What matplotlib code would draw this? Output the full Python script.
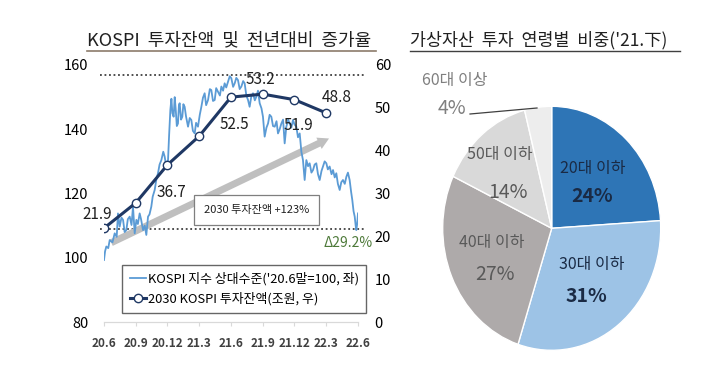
import numpy as np
import matplotlib
matplotlib.use("Agg")
import matplotlib.pyplot as plt
from matplotlib.lines import Line2D

plt.rcParams['font.family'] = ['Noto Sans CJK KR', 'DejaVu Sans']

# KOSPI 상대수준 (months after 2020.6, value)
kospi_m = [0, 0.1, 0.22, 0.4, 0.54, 0.8, 1.01, 1.2, 1.32, 1.48, 1.65, 1.8, 1.95, 2.11,
           2.25, 2.43, 2.6, 2.74, 2.9, 3.06, 3.2, 3.37, 3.5, 3.69, 3.85, 4.0, 4.16, 4.3,
           4.47, 4.6, 4.79, 4.95, 5.1, 5.25, 5.42, 5.6, 5.73, 5.89, 6.05, 6.15, 6.27,
           6.37, 6.46, 6.58, 6.68, 6.77, 6.88, 6.99, 7.08, 7.15, 7.28, 7.4, 7.5, 7.62,
           7.75, 7.94, 8.1, 8.25, 8.4, 8.57, 8.7, 8.88, 9.05, 9.2, 9.35, 9.51, 9.65,
           9.83, 10.0, 10.14, 10.3, 10.46, 10.6, 10.77, 10.95, 11.09, 11.25, 11.4, 11.55,
           11.72, 11.88, 12.03, 12.2, 12.35, 12.5, 12.66, 12.82, 12.98, 13.15, 13.29,
           13.45, 13.61, 13.76, 13.92, 14.08, 14.25, 14.39, 14.55, 14.71, 14.88, 15.02,
           15.18, 15.35, 15.5, 15.65, 15.81, 15.97, 16.13, 16.3, 16.44, 16.6, 16.76,
           16.92, 17.07, 17.23, 17.4, 17.54, 17.7, 17.86, 18.0, 18.17, 18.33, 18.49,
           18.65, 18.8, 18.96, 19.12, 19.28, 19.43, 19.6, 19.75, 19.9, 20.06, 20.22,
           20.38, 20.55, 20.69, 20.85, 21.01, 21.15, 21.32, 21.5, 21.64, 21.8, 21.95,
           22.1, 22.27, 22.42, 22.58, 22.75, 22.9, 23.05, 23.21, 23.35, 23.46, 23.58,
           23.69, 23.78, 23.84, 23.92, 24.0]
kospi_v = [99.3, 102.0, 103.5, 103.0, 105.5, 104.8, 107.6, 106.5, 113.8, 109.7, 112.5,
           111.8, 108.0, 108.6, 112.0, 112.8, 110.2, 115.9, 107.6, 111.8, 110.5, 113.8,
           112.0, 108.6, 110.0, 107.1, 112.8, 113.5, 115.9, 119.0, 121.1, 124.5, 126.3,
           129.0, 130.4, 133.0, 131.5, 128.4, 130.4, 138.0, 146.0, 149.5, 145.0, 143.9,
           150.0, 146.5, 141.0, 141.8, 147.5, 148.1, 143.0, 143.9, 147.8, 147.0, 144.0,
           140.8, 143.5, 142.9, 139.5, 138.7, 142.0, 140.8, 144.5, 147.0, 149.8, 151.2,
           147.5, 149.1, 152.5, 152.2, 148.8, 149.1, 152.8, 151.7, 150.5, 153.3, 152.0,
           154.3, 153.0, 154.8, 156.5, 155.9, 153.2, 154.3, 156.0, 155.3, 152.5, 153.3,
           155.0, 154.3, 150.5, 149.1, 147.0, 150.2, 151.2, 149.0, 150.1, 152.0, 148.1,
           146.5, 143.9, 137.7, 140.5, 141.8, 144.5, 143.9, 141.0, 140.8, 142.5, 138.7,
           140.0, 141.8, 143.0, 135.6, 140.8, 143.0, 141.8, 140.5, 142.9, 141.5, 140.8,
           137.5, 138.7, 133.0, 130.4, 124.2, 130.4, 128.5, 129.4, 126.5, 127.3, 129.0,
           129.4, 126.0, 124.2, 127.0, 128.4, 130.0, 129.4, 127.5, 128.4, 126.0, 127.3,
           125.0, 126.3, 123.0, 121.1, 123.5, 124.2, 123.0, 125.2, 126.5, 124.2, 120.5,
           118.0, 114.5, 112.8, 110.0, 108.6, 110.5, 113.8]

# 2030 KOSPI 투자잔액 (조원)
inv_m = [0, 3, 6, 9, 12, 15, 18, 21]
inv_v = [21.9, 27.8, 36.7, 43.4, 52.5, 53.2, 51.9, 48.8]
inv_lbl = {0: '21.9', 2: '36.7', 4: '52.5', 5: '53.2', 6: '51.9', 7: '48.8'}

xticks = [0, 3, 6, 9, 12, 15, 18, 21, 24]
xlabels = ['20.6', '20.9', '20.12', '21.3', '21.6', '21.9', '21.12', '22.3', '22.6']

# pie
ages = ['20대 이하', '30대 이하', '40대 이하', '50대 이하', '60대 이상']
shares = [24, 31, 27, 14, 4]
pie_colors = ['#2E75B6', '#9DC3E6', '#AEAAAA', '#D9D9D9', '#EDEDED']

fig = plt.figure(figsize=(7.2, 3.78), dpi=100)

ax = fig.add_axes([104/720, 1-322/378, 254/720, 257/378])
ax.set_xlim(0, 24)
ax.set_ylim(80, 160)
ax2 = ax.twinx()
ax2.set_ylim(0, 60)
for a in (ax, ax2):
    for s in ['top', 'left', 'right']:
        a.spines[s].set_visible(False)
    a.spines['bottom'].set_color('#D9D9D9')
ax.set_xticks(xticks)
ax.set_xticklabels(xlabels, fontsize=8.5, fontweight='bold', color='#404040')
ax.tick_params(axis='x', length=3, color='#D9D9D9', pad=8)
ax.set_yticks([80, 100, 120, 140, 160])
ax.tick_params(axis='y', length=0, labelsize=10.5, pad=11)
ax2.set_yticks([0, 10, 20, 30, 40, 50, 60])
ax2.tick_params(axis='y', length=0, labelsize=10.5, pad=12)

# dotted reference lines
for yv in (156.9, 108.9):
    ax.plot([-0.35, 24.8], [yv, yv], ls=(0, (1, 1.5)), color='#404040', lw=1.3,
            clip_on=False, zorder=1)

# gray trend arrow
ax.annotate('', xy=(21.5, 137.5), xytext=(0.45, 104.3),
            arrowprops=dict(arrowstyle='simple,head_width=0.9,head_length=0.8,tail_width=0.5',
                            color='#BFBFBF', lw=0), zorder=2)

l1, = ax.plot(kospi_m, kospi_v, color='#5B9BD5', lw=1.3, zorder=3)
l2, = ax2.plot(inv_m, inv_v, color='#1F3864', lw=2.2, marker='o', ms=6,
               mfc='white', mec='#1F3864', mew=1.0, zorder=4)

offs = {0: (-0.6, 3.2), 2: (0.4, -6.5), 4: (0.3, -6.5), 5: (-0.2, 3.5),
        6: (0.4, -6.0), 7: (1.0, 3.5)}
for i, t in inv_lbl.items():
    dx, dy = offs[i]
    ax2.text(inv_m[i] + dx, inv_v[i] + dy, t, fontsize=11, ha='center', va='center',
             color='#202020', zorder=5)

# green drop arrow
ax.annotate('', xy=(24.1, 109.8), xytext=(24.1, 156.0),
            arrowprops=dict(arrowstyle='<|-|>,head_width=0.2,head_length=0.5',
                            color='#4E7A3A', lw=0.9), zorder=2)
ax.text(23.1, 104.5, 'Δ29.2%', fontsize=10, color='#4E7A3A', ha='center', va='center',
        style='italic')

ax.text(14.4, 115.0, '2030 투자잔액 +123%', fontsize=8, ha='center', va='center',
        color='#202020', zorder=6,
        bbox=dict(boxstyle='square,pad=0.9', fc='white', ec='#7F7F7F', lw=0.9))

leg = ax.legend([l1, l2], ["KOSPI 지수 상대수준('20.6말=100, 좌)", '2030 KOSPI 투자잔액(조원, 우)'],
                loc='lower left', bbox_to_anchor=(0.07, 0.035), fontsize=9.3, frameon=True,
                fancybox=False, edgecolor='#404040', handlelength=1.3, handletextpad=0.1,
                borderpad=0.6, labelspacing=0.45, borderaxespad=0.0)
leg.get_frame().set_linewidth(1.0)
leg.set_zorder(7)

# titles
fig.text(87/720, 1-40/378, 'KOSPI  투자잔액  및  전년대비  증가율', fontsize=13,
         ha='left', va='center', color='#202020')
fig.add_artist(Line2D([87/720, 376/720], [1-51/378, 1-51/378], color='#8C7B6B', lw=1.2))
fig.text(410/720, 1-40/378, "가상자산  투자  연령별  비중('21.下)", fontsize=12.5,
         ha='left', va='center', color='#202020')
fig.add_artist(Line2D([410/720, 680/720], [1-51/378, 1-51/378], color='#404040', lw=1.0))

# pie
pax = fig.add_axes([(551.7-109)/720, 1-(228.3+122)/378, 218/720, 244/378])
pax.pie(shares, colors=pie_colors, startangle=90, counterclock=False,
        wedgeprops=dict(edgecolor='white', linewidth=1.0))
pax.set_aspect('auto')
pax.set_xlim(-1, 1)
pax.set_ylim(-1, 1)


def pfig(x, y):
    return ((x - 551.7) / 109, (228.3 - y) / 122)


lbls = [((593, 168), (592, 197), '#1A2A44'),
        ((592, 265), (586, 297), '#1A2A44'),
        ((492, 243), (495, 275), '#595959'),
        ((500, 155), (508, 193), '#595959'),
        ((455, 80), (452, 108), '#7F7F7F')]
for (p1, p2, c), name, v in zip(lbls, ages, shares):
    x1, y1 = pfig(*p1)
    x2, y2 = pfig(*p2)
    pax.text(x1, y1, name, fontsize=11.5, ha='center', va='center', color=c, clip_on=False)
    pax.text(x2, y2, f'{v}%', fontsize=14, ha='center', va='center', color=c,
             fontweight='bold' if v in (24, 31) else 'normal', clip_on=False)
xa, ya = pfig(470, 114)
xb, yb = pfig(537, 108)
pax.plot([xa, xb], [ya, yb], color='#404040', lw=0.9, clip_on=False)

fig.savefig('out.png', dpi=100)
